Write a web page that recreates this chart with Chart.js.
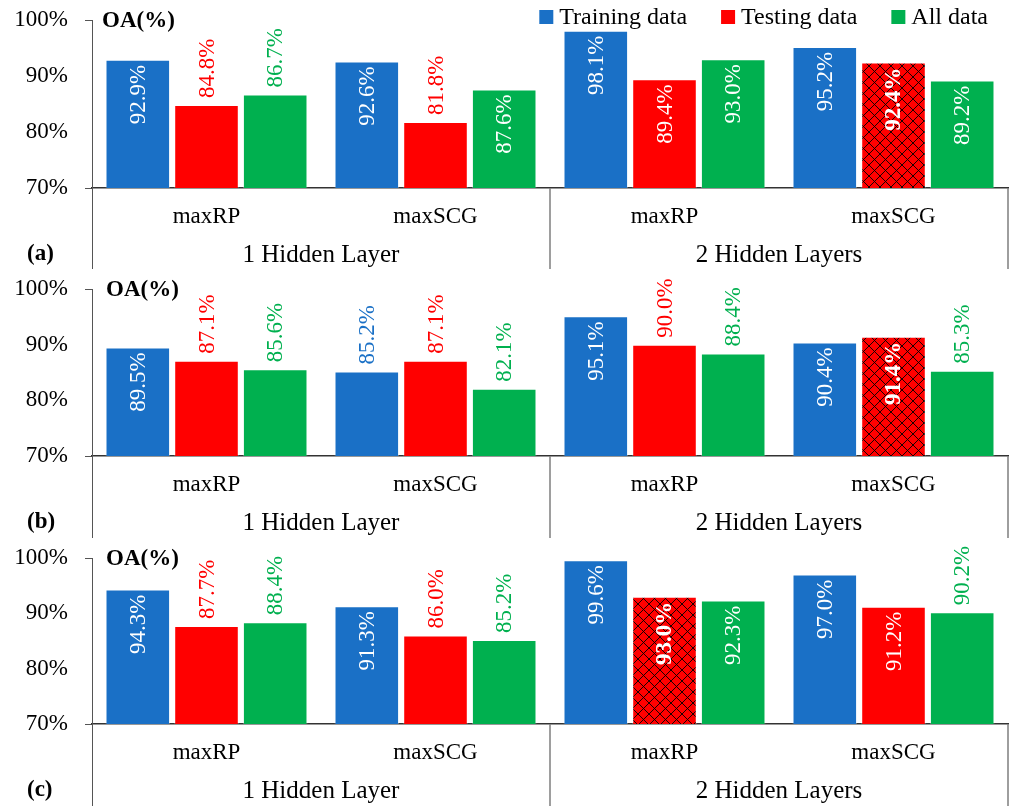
<!DOCTYPE html>
<html>
<head>
<meta charset="utf-8">
<script src="https://cdn.jsdelivr.net/npm/chart.js@4.4.1/dist/chart.umd.min.js"></script>
<style>
  html, body { margin: 0; padding: 0; background: #ffffff; }
  #wrap { position: relative; width: 1011px; height: 806px; background: #ffffff; }
  canvas { position: absolute; left: 0; }
</style>
</head>
<body>
<div id="wrap">
  <canvas id="panelA" width="1011" height="269" style="top:0px"></canvas>
  <canvas id="panelB" width="1011" height="269" style="top:269px"></canvas>
  <canvas id="panelC" width="1011" height="268" style="top:538px"></canvas>
</div>
<script>
// Training algorithms (inner category level) and network depth (outer level)
const methods = ['maxRP', 'maxSCG', 'maxRP', 'maxSCG'];
const layerGroups = ['1 Hidden Layer', '2 Hidden Layers'];
const seriesNames = ['Training data', 'Testing data', 'All data'];
const yTickValues = [70, 80, 90, 100];

// Overall accuracy (%) – panel (a)
const trainA = [92.9, 92.6, 98.1, 95.2];
const testA  = [84.8, 81.8, 89.4, 92.4];
const allA   = [86.7, 87.6, 93.0, 89.2];
// panel (b)
const trainB = [89.5, 85.2, 95.1, 90.4];
const testB  = [87.1, 87.1, 90.0, 91.4];
const allB   = [85.6, 82.1, 88.4, 85.3];
// panel (c)
const trainC = [94.3, 91.3, 99.6, 97.0];
const testC  = [87.7, 86.0, 93.0, 91.2];
const allC   = [88.4, 85.2, 92.3, 90.2];

// Where each value label sits: 'in' = inside bar end (white), 'out' = above bar
const placeA = [['in','in','in','in'], ['out','out','in','in'], ['out','in','in','in']];
const placeB = [['in','out','in','in'], ['out','out','out','in'], ['out','out','out','out']];
const placeC = [['in','in','in','in'], ['out','out','in','in'], ['out','out','in','out']];

const SERIF = "'Liberation Serif', 'Times New Roman', serif";
const COLORS = ['#1A70C6', '#FF0000', '#00B04F'];

// Red fill with black diagonal cross-hatching for the best testing result
function makeHatch() {
  const s = 11;
  const c = document.createElement('canvas');
  c.width = s; c.height = s;
  const g = c.getContext('2d');
  g.fillStyle = '#FF0000';
  g.fillRect(0, 0, s, s);
  g.strokeStyle = '#000000';
  g.lineWidth = 0.9;
  g.beginPath();
  for (const k of [-s, 0, s]) {
    g.moveTo(k - 1, -1); g.lineTo(k + s + 1, s + 1);
    g.moveTo(k + s + 1, -1); g.lineTo(k - 1, s + 1);
  }
  g.stroke();
  return g.createPattern(c, 'repeat');
}
const hatch = makeHatch();

const panels = [
  { id: 'panelA', tag: '(a)', axisH: 81, series: [trainA, testA, allA], hatchIdx: 3, place: placeA, oaX: 102, legend: true },
  { id: 'panelB', tag: '(b)', axisH: 82, series: [trainB, testB, allB], hatchIdx: 3, place: placeB, oaX: 106, legend: false },
  { id: 'panelC', tag: '(c)', axisH: 82, series: [trainC, testC, allC], hatchIdx: 2, place: placeC, oaX: 106, legend: false }
];

function valueLabels(panel) {
  return {
    id: 'valueLabels',
    afterDatasetsDraw(chart) {
      const ctx = chart.ctx;
      chart.data.datasets.forEach((ds, i) => {
        const meta = chart.getDatasetMeta(i);
        meta.data.forEach((bar, j) => {
          const v = ds.data[j];
          const text = v.toFixed(1) + '%';
          const inside = panel.place[i][j] === 'in';
          const isHatch = (i === 1 && j === panel.hatchIdx);
          ctx.save();
          ctx.font = (isHatch ? 'bold ' : '') + '23px ' + SERIF;
          ctx.fillStyle = inside ? '#FFFFFF' : COLORS[i];
          ctx.textBaseline = 'middle';
          if (inside) {
            ctx.translate(bar.x + 1, bar.y + 5);
            ctx.rotate(-Math.PI / 2);
            ctx.textAlign = 'right';
          } else {
            ctx.translate(bar.x + 1, bar.y - 7);
            ctx.rotate(-Math.PI / 2);
            ctx.textAlign = 'left';
          }
          ctx.fillText(text, 0, 0);
          ctx.restore();
        });
      });
    }
  };
}

function panelDecor(panel) {
  return {
    id: 'panelDecor',
    afterDraw(chart) {
      const ctx = chart.ctx;
      const area = chart.chartArea;
      const xs = chart.scales.x;
      const H = chart.height;
      ctx.save();
      // extension of the value axis below the baseline
      ctx.strokeStyle = '#555555';
      ctx.lineWidth = 1;
      ctx.beginPath();
      ctx.moveTo(Math.round(area.left) + 0.5, area.bottom);
      ctx.lineTo(Math.round(area.left) + 0.5, H);
      ctx.stroke();
      // dividers between outer category groups
      const mid = (xs.getPixelForValue(1) + xs.getPixelForValue(2)) / 2;
      ctx.strokeStyle = '#7F7F7F';
      ctx.lineWidth = 1.5;
      ctx.beginPath();
      ctx.moveTo(mid, area.bottom); ctx.lineTo(mid, H);
      ctx.moveTo(area.right, area.bottom); ctx.lineTo(area.right, H);
      ctx.stroke();
      // outer category labels
      ctx.fillStyle = '#000000';
      ctx.font = '25px ' + SERIF;
      ctx.textAlign = 'center';
      ctx.textBaseline = 'alphabetic';
      ctx.fillText(layerGroups[0], (area.left + mid) / 2, area.bottom + 74);
      ctx.fillText(layerGroups[1], (mid + area.right) / 2, area.bottom + 74);
      // axis caption and panel tag
      ctx.font = 'bold 23px ' + SERIF;
      ctx.textAlign = 'left';
      ctx.fillText('OA(%)', panel.oaX, area.top + 7);
      ctx.fillText(panel.tag, 27, area.bottom + 72);
      // legend
      if (panel.legend) {
        ctx.font = '24px ' + SERIF;
        let x = 988;
        const items = chart.data.datasets.map((d, i) => ({ label: d.label, color: COLORS[i] }));
        const pos = [];
        for (let k = items.length - 1; k >= 0; k--) {
          const w = ctx.measureText(items[k].label).width;
          x -= w;
          pos[k] = { tx: x, sx: x - 20 };
          x -= 20 + 34;
        }
        items.forEach((it, k) => {
          ctx.fillStyle = it.color;
          ctx.fillRect(pos[k].sx, 10, 14, 14);
          ctx.fillStyle = '#000000';
          ctx.fillText(it.label, pos[k].tx, 24);
        });
      }
      ctx.restore();
    }
  };
}

panels.forEach(panel => {
  const canvas = document.getElementById(panel.id);
  new Chart(canvas, {
    type: 'bar',
    data: {
      labels: methods,
      datasets: panel.series.map((vals, i) => ({
        label: seriesNames[i],
        data: vals,
        backgroundColor: i === 1
          ? (c => c.dataIndex === panel.hatchIdx ? hatch : COLORS[1])
          : COLORS[i],
        borderColor: 'rgba(255,255,255,0.3)',
        borderWidth: 1,
        categoryPercentage: 0.9,
        barPercentage: 0.94
      }))
    },
    options: {
      responsive: false,
      animation: false,
      devicePixelRatio: 1,
      layout: { padding: { top: 20, right: 3, left: 0, bottom: 0 } },
      plugins: { legend: { display: false }, tooltip: { enabled: false } },
      scales: {
        x: {
          grid: { display: false },
          border: { display: true, color: '#333333', width: 1.5 },
          ticks: { font: { family: SERIF, size: 23 }, color: '#000000', padding: 7 },
          afterFit(s) { s.height = panel.axisH; }
        },
        y: {
          min: yTickValues[0],
          max: yTickValues[yTickValues.length - 1],
          afterBuildTicks(s) { s.ticks = yTickValues.map(v => ({ value: v })); },
          ticks: {
            callback: v => v + '%',
            font: { family: SERIF, size: 23 },
            color: '#000000',
            padding: 17
          },
          grid: {
            drawOnChartArea: false,
            drawTicks: true,
            tickLength: 7,
            lineWidth: 1,
            color: c => (c.tick && (c.tick.value === 100 || c.tick.value === 70)) ? '#555555' : 'rgba(0,0,0,0)'
          },
          border: { display: true, color: '#555555', width: 1 },
          afterFit(s) { s.width = 92; s.paddingTop = 0; s.paddingBottom = 0; }
        }
      }
    },
    plugins: [valueLabels(panel), panelDecor(panel)]
  });
});
</script>
</body>
</html>
